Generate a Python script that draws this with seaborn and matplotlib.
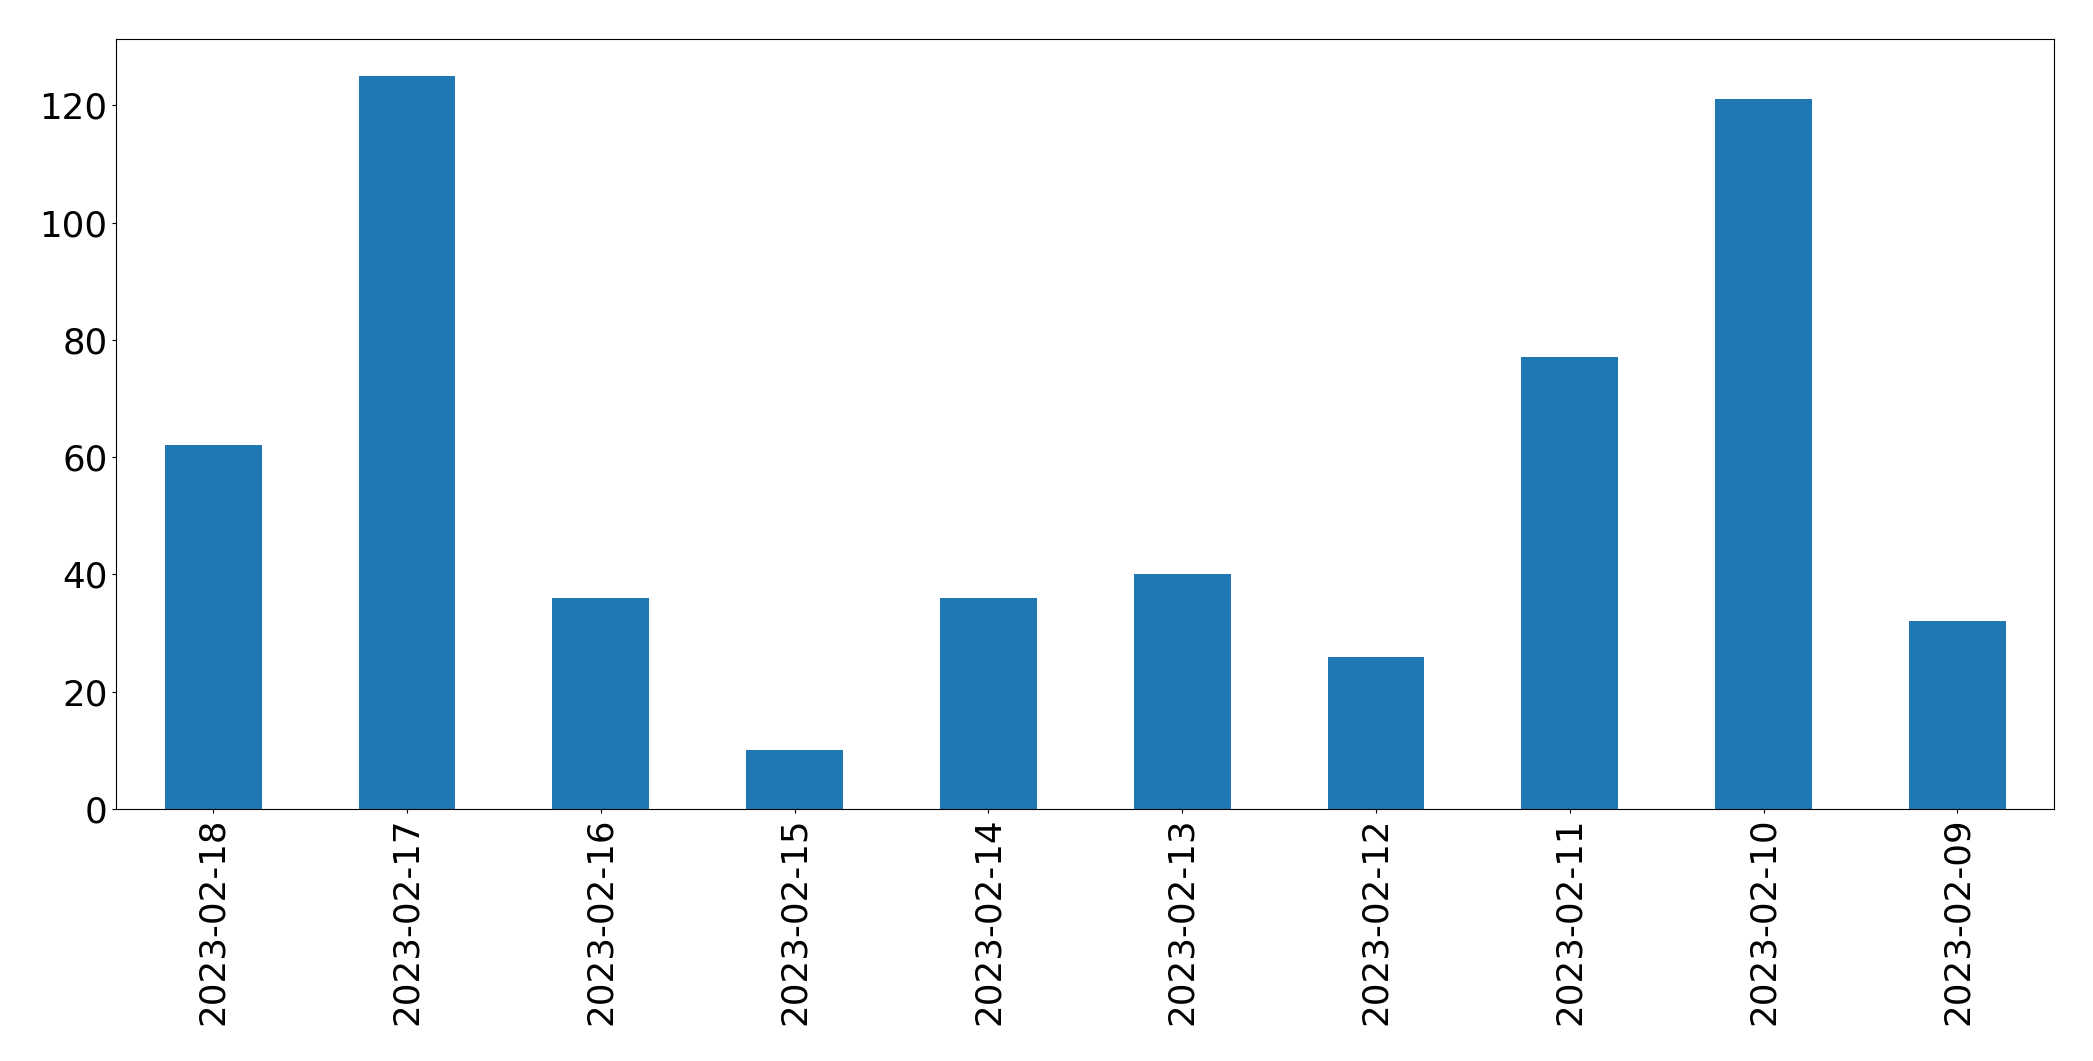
import matplotlib
matplotlib.use("Agg")
import matplotlib.pyplot as plt
import pandas as pd
import seaborn as sns

# Daily counts, newest first (as in the source chart)
dates = [
    "2023-02-18", "2023-02-17", "2023-02-16", "2023-02-15", "2023-02-14",
    "2023-02-13", "2023-02-12", "2023-02-11", "2023-02-10", "2023-02-09",
]
counts = [62, 125, 36, 10, 36, 40, 26, 77, 121, 32]

df = pd.DataFrame({"date": dates, "count": counts})

plt.rcParams["font.family"] = ["DejaVu Sans"]

fig = plt.figure(figsize=(20.93, 10.61), dpi=100)
ax = fig.add_axes([116.3 / 2093, 1 - 809 / 1061, (2054.3 - 116.3) / 2093, (809 - 39.3) / 1061])

sns.barplot(
    data=df, x="date", y="count", order=dates,
    color="#1f77b4", saturation=1, width=0.5, ax=ax,
)

ax.set_xlim(-0.5, len(dates) - 0.5)
ax.set_ylim(0, max(counts) * 1.05)
ax.set_xlabel("")
ax.set_ylabel("")
ax.tick_params(axis="both", labelsize=25.7, length=4 * 72 / 100, width=0.8,
               colors="black")
ax.tick_params(axis="x", labelrotation=90)
for side in ["left", "right", "top", "bottom"]:
    ax.spines[side].set_visible(True)
    ax.spines[side].set_linewidth(0.8)
    ax.spines[side].set_color("black")

fig.savefig("out.png", dpi=100)
